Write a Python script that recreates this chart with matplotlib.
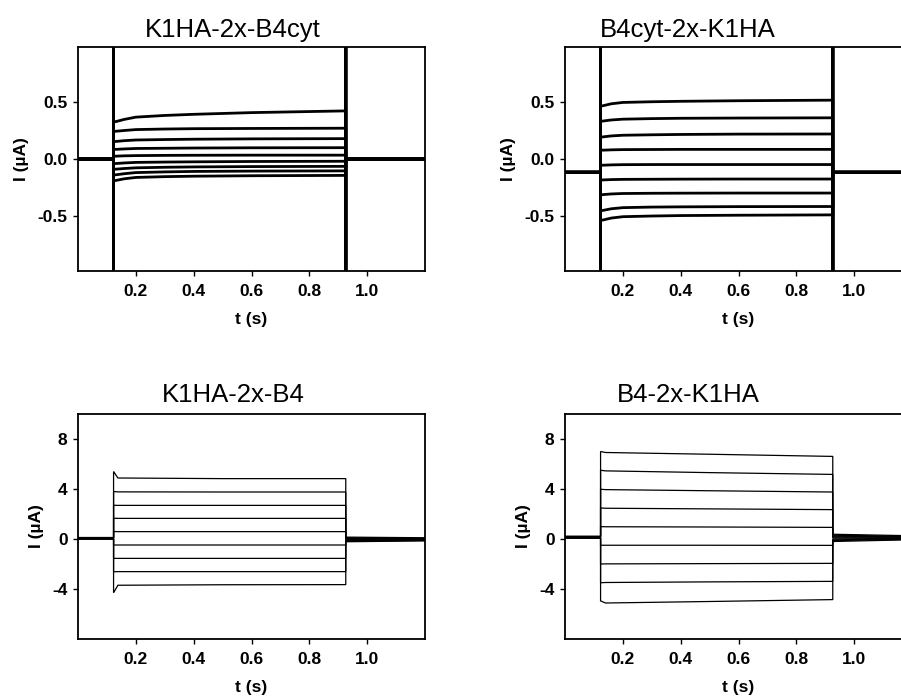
import numpy as np
import matplotlib.pyplot as plt

plt.rcParams['font.family'] = ['Liberation Sans', 'DejaVu Sans']
plt.rcParams['axes.unicode_minus'] = False

# voltage pulse edges (s)
t_on, t_off = 0.123, 0.926
t_end = 1.2

# --- K1HA-2x-B4cyt (µA) ---
a_t = [0.13, 0.16, 0.2, 0.3, 0.4, 0.6, 0.92]
a_I = [
    [0.33, 0.35, 0.37, 0.385, 0.395, 0.41, 0.425],
    [0.245, 0.252, 0.26, 0.265, 0.268, 0.27, 0.272],
    [0.155, 0.162, 0.168, 0.172, 0.175, 0.178, 0.18],
    [0.085, 0.089, 0.093, 0.095, 0.097, 0.099, 0.10],
    [0.025, 0.028, 0.03, 0.032, 0.033, 0.034, 0.034],
    [-0.04, -0.035, -0.03, -0.027, -0.025, -0.022, -0.02],
    [-0.09, -0.084, -0.078, -0.073, -0.07, -0.067, -0.065],
    [-0.14, -0.13, -0.12, -0.114, -0.11, -0.107, -0.105],
    [-0.19, -0.175, -0.163, -0.156, -0.152, -0.148, -0.145],
]
a_pre = [0.0] * 9
a_post = [[0.0, 0.0]] * 9
a_cap_on = [1.5] * 5 + [-1.5] * 4
a_cap_off = [-1.5] * 5 + [1.5] * 4

# --- B4cyt-2x-K1HA (µA) ---
b_t = [0.13, 0.16, 0.2, 0.3, 0.4, 0.6, 0.92]
b_I = [
    [0.47, 0.488, 0.50, 0.506, 0.51, 0.515, 0.52],
    [0.335, 0.345, 0.352, 0.357, 0.36, 0.362, 0.364],
    [0.195, 0.204, 0.21, 0.214, 0.217, 0.22, 0.221],
    [0.078, 0.081, 0.083, 0.084, 0.085, 0.085, 0.085],
    [-0.055, -0.052, -0.05, -0.049, -0.049, -0.049, -0.049],
    [-0.185, -0.182, -0.18, -0.179, -0.178, -0.177, -0.177],
    [-0.315, -0.309, -0.305, -0.303, -0.302, -0.301, -0.301],
    [-0.455, -0.44, -0.43, -0.425, -0.423, -0.421, -0.42],
    [-0.54, -0.522, -0.51, -0.504, -0.50, -0.497, -0.494],
]
b_pre = [-0.117] * 9
b_post = [[-0.117, -0.117]] * 9
b_cap_on = [1.5] * 5 + [-1.5] * 4
b_cap_off = [-1.5] * 5 + [1.5] * 4

# --- K1HA-2x-B4 (µA) ---
c_t = [t_on, 0.138, 0.5, 0.92]
c_I = [
    [5.4, 4.88, 4.83, 4.83],
    [3.8, 3.77, 3.76, 3.76],
    [2.7, 2.69, 2.69, 2.69],
    [1.66, 1.65, 1.65, 1.65],
    [0.6, 0.59, 0.59, 0.59],
    [-0.48, -0.48, -0.48, -0.48],
    [-1.55, -1.55, -1.55, -1.55],
    [-2.62, -2.61, -2.61, -2.61],
    [-4.3, -3.7, -3.66, -3.65],
]
c_pre = [0.12, 0.1, 0.08, 0.06, 0.05, 0.04, 0.02, 0.0, -0.02]
c_post = [[0.15, 0.1], [0.1, 0.06], [0.05, 0.02], [0.0, -0.01], [-0.05, -0.04],
          [-0.1, -0.07], [-0.14, -0.1], [-0.18, -0.12], [-0.22, -0.15]]

# --- B4-2x-K1HA (µA) ---
d_t = [t_on, 0.14, 0.5, 0.92]
d_I = [
    [7.0, 6.92, 6.78, 6.61],
    [5.5, 5.45, 5.31, 5.17],
    [3.98, 3.95, 3.86, 3.76],
    [2.48, 2.46, 2.41, 2.35],
    [0.99, 0.98, 0.96, 0.93],
    [-0.5, -0.5, -0.5, -0.51],
    [-2.0, -1.99, -1.97, -1.95],
    [-3.5, -3.48, -3.43, -3.39],
    [-4.95, -5.12, -5.0, -4.85],
]
d_pre = [0.22, 0.2, 0.18, 0.16, 0.14, 0.12, 0.1, 0.08, 0.06]
d_post = [[0.38, 0.26], [0.3, 0.22], [0.22, 0.18], [0.15, 0.14], [0.08, 0.1],
          [0.0, 0.06], [-0.07, 0.02], [-0.13, -0.02], [-0.2, -0.06]]

titles = ['K1HA-2x-B4cyt', 'B4cyt-2x-K1HA', 'K1HA-2x-B4', 'B4-2x-K1HA']
xticks = [0.2, 0.4, 0.6, 0.8, 1.0]


def draw_sweeps(ax, t_pts, I, pre, post, cap_on=None, cap_off=None, lw=1.0):
    for i, levels in enumerate(I):
        x = [0.0, t_on]
        y = [pre[i], pre[i]]
        if cap_on is not None:
            x += [t_on, t_on]
            y += [cap_on[i], levels[0]]
        x += list(t_pts) + [t_off]
        y += list(levels) + [levels[-1]]
        if cap_off is not None:
            x += [t_off]
            y += [cap_off[i]]
        x += [t_off, t_end]
        y += [post[i][0], post[i][1]]
        ax.plot(x, y, color='black', lw=lw, solid_joinstyle='miter')


fig = plt.figure(figsize=(9.01, 6.97), dpi=100)
W, H = 901, 697


def px_axes(left, top, width, height):
    return fig.add_axes([left / W, 1 - (top + height) / H, width / W, height / H])


ax_a = px_axes(78, 47, 347, 224)
ax_b = px_axes(565, 47, 347, 224)
ax_c = px_axes(78, 414, 347, 225)
ax_d = px_axes(565, 414, 347, 225)

draw_sweeps(ax_a, a_t, a_I, a_pre, a_post, a_cap_on, a_cap_off, lw=2.0)
draw_sweeps(ax_b, b_t, b_I, b_pre, b_post, b_cap_on, b_cap_off, lw=2.0)
draw_sweeps(ax_c, c_t, c_I, c_pre, c_post, lw=0.9)
draw_sweeps(ax_d, d_t, d_I, d_pre, d_post, lw=0.9)

for ax in (ax_a, ax_b):
    ax.set_ylim(-0.99, 0.99)
    ax.set_yticks([-0.5, 0.0, 0.5])
    ax.set_yticklabels(['-0.5', '0.0', '0.5'])
for ax in (ax_c, ax_d):
    ax.set_ylim(-8, 10)
    ax.set_yticks([-4, 0, 4, 8])
    ax.set_yticklabels(['-4', '0', '4', '8'])

for ax in (ax_a, ax_b, ax_c, ax_d):
    ax.set_xlim(0, t_end)
    ax.set_xticks(xticks)
    ax.set_xticklabels(['%.1f' % v for v in xticks])
    ax.tick_params(direction='out', length=3.5, width=1.0, labelsize=12.5,
                   top=False, right=False)
    ax.tick_params(axis='x', pad=6)
    ax.tick_params(axis='y', pad=4)
    for lab in ax.get_xticklabels() + ax.get_yticklabels():
        lab.set_fontweight('bold')
    for s in ax.spines.values():
        s.set_linewidth(1.3)
    ax.set_xlabel('t (s)', fontsize=12.5, fontweight='bold', labelpad=9)
    ax.set_ylabel('I (µA)', fontsize=12.5, fontweight='bold', labelpad=6)

for (cx, cy), name in zip([(233, 30), (688, 30), (233, 395), (688, 395)], titles):
    fig.text(cx / W, 1 - cy / H, name, ha='center', va='center', fontsize=18.5)

fig.savefig('out.png', dpi=100)
